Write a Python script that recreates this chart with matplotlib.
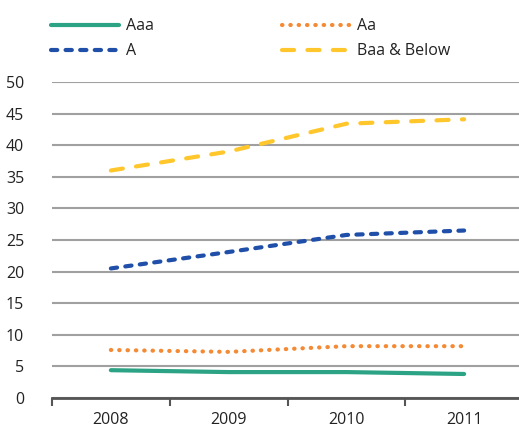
import matplotlib
matplotlib.use("Agg")
import matplotlib.pyplot as plt
import numpy as np

years = ["2008", "2009", "2010", "2011"]
aaa = [4.4, 4.1, 4.1, 3.8]
aa = [7.6, 7.3, 8.2, 8.2]
a = [20.5, 23.1, 25.8, 26.5]
baa = [36.0, 39.0, 43.4, 44.1]
yticks = [0, 5, 10, 15, 20, 25, 30, 35, 40, 45, 50]

plt.rcParams['font.family'] = ['Open Sans', 'DejaVu Sans']
W, H = 519, 430
fig = plt.figure(figsize=(W / 100, H / 100), dpi=100)
x0, x1 = 52, 523
y0, y1 = 398, 82
ax = fig.add_axes([x0 / W, 1 - y0 / H, (x1 - x0) / W, (y0 - y1) / H])

x = np.arange(len(years))
lw = 3.0
l1, = ax.plot(x, aaa, color='#2BA384', lw=lw, solid_capstyle='round', label='Aaa')
l2, = ax.plot(x, aa, color='#F58A35', lw=lw, linestyle=(0, (0.1, 1.9)), dash_capstyle='round', label='Aa')
l3, = ax.plot(x, a, color='#1F4FA8', lw=lw, linestyle=(0, (1.5, 2.0)), dash_capstyle='round', label='A')
l4, = ax.plot(x, baa, color='#FFC72C', lw=lw, linestyle=(0, (2.9, 3.2)), dash_capstyle='round', label='Baa & Below')

ax.set_xlim(-0.5, len(years) - 0.5)
ax.set_ylim(0, 50)
ax.set_yticks(yticks)
ax.set_yticklabels([str(v) for v in yticks], fontsize=11.5, color='#222222')
ax.yaxis.grid(True, color='#A0A0A0', lw=1.5)
ax.set_axisbelow(True)
ax.tick_params(axis='y', length=0, pad=20)
for s in ['left', 'right', 'top']:
    ax.spines[s].set_visible(False)
ax.spines['bottom'].set_color('#555555')
ax.spines['bottom'].set_linewidth(2)

ax.set_xticks(np.arange(-0.5, len(years), 1.0))
ax.set_xticklabels([])
ax.set_xticks(x, minor=True)
ax.set_xticklabels(years, minor=True, fontsize=11.5, color='#222222')
ax.tick_params(axis='x', which='major', length=6, width=1.5, color='#555555', direction='out')
ax.tick_params(axis='x', which='minor', length=0, pad=10)

leg = fig.legend(handles=[l1, l3, l2, l4], labels=['Aaa', 'A', 'Aa', 'Baa & Below'],
                 ncol=2, loc='upper left', bbox_to_anchor=(45 / W, 1 - 12 / H),
                 frameon=False, fontsize=11.5, handlelength=4.25, handletextpad=0.45,
                 columnspacing=8.0, labelspacing=0.55, borderaxespad=0)
for t in leg.get_texts():
    t.set_color('#222222')

fig.savefig('out.png', dpi=100)
